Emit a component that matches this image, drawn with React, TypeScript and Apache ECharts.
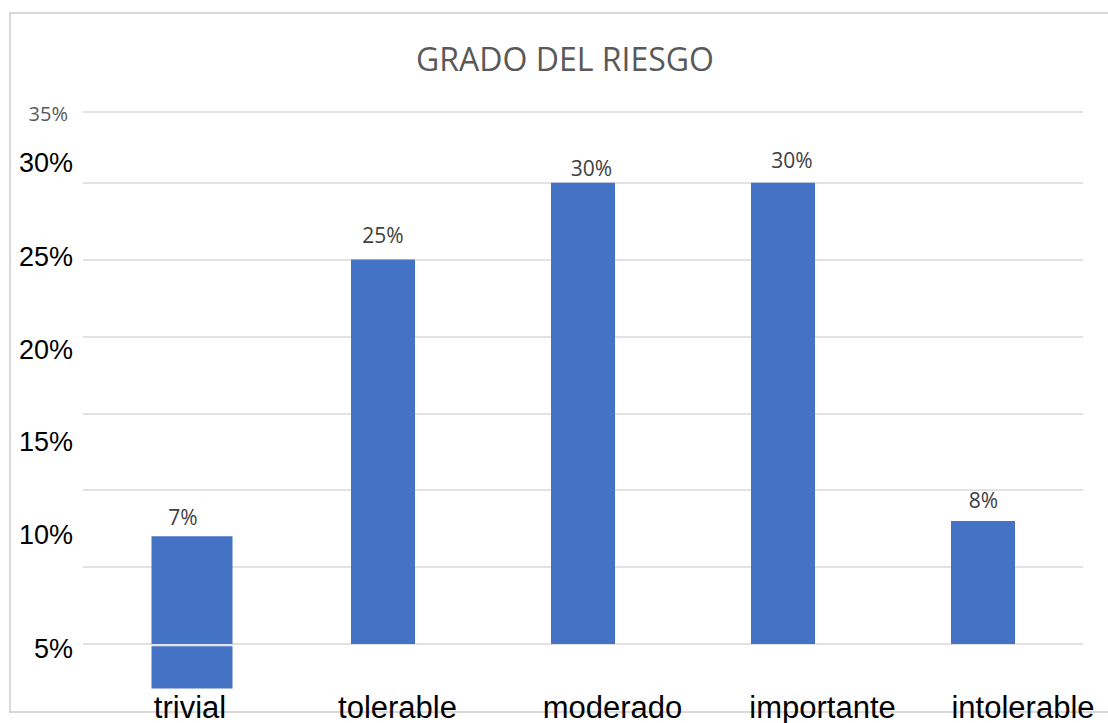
import React, { useEffect, useRef } from 'react';
import * as echarts from 'echarts';

// Share of evaluated risks per risk grade
const categories = ['trivial', 'tolerable', 'moderado', 'importante', 'intolerable'];
const shares = [7, 25, 30, 30, 8];
// the "trivial" column continues below the base line down to this value
const trivialBelowAxis = -2.9;
const yTickLabels = ['35%', '30%', '25%', '20%', '15%', '10%', '5%'];

const BLUE = '#4472C4';
const GRID_GRAY = '#d9d9d9';
const AXIS_TOP = 34.6;

// hand-placed axis texts
const yLabelY = [113, 163, 257, 350, 442, 535, 649];
const xLabelX = [190, 397.5, 612.5, 822.5, 1023];
// small nudges of the value labels [dx, dy]
const labelNudge = [
  [-9, -4],
  [0, -9],
  [8.5, 1],
  [9, -7],
  [0.5, -5],
];

const valueLabel = {
  show: true,
  position: 'top',
  distance: 5,
  formatter: '{c}%',
  fontFamily: 'Open Sans',
  fontSize: 21,
  color: '#404040',
};

export default function App() {
  const ref = useRef<HTMLDivElement>(null);

  useEffect(() => {
    if (!ref.current) return;
    const chart = echarts.init(ref.current, undefined, { renderer: 'svg' });

    const blank = categories.map(() => '-');

    const mainData = shares.map((v, i) =>
      i === 0 ? '-' : { value: v, label: { offset: labelNudge[i] } }
    );
    const trivialUp = blank.slice();
    trivialUp[0] = { value: shares[0], label: { offset: labelNudge[0] } } as any;
    const gapValue = -0.15;
    const trivialGap = blank.slice();
    trivialGap[0] = gapValue as any;
    const trivialDown = blank.slice();
    trivialDown[0] = (trivialBelowAxis - gapValue) as any;

    const yLabelEls = yTickLabels.map((t, i) =>
      i === 0
        ? {
            type: 'text',
            x: 68,
            y: yLabelY[i],
            style: {
              text: t,
              fill: '#595959',
              font: '20px "Open Sans"',
              align: 'right',
              verticalAlign: 'middle',
              textAlign: 'right',
              textVerticalAlign: 'middle',
            },
          }
        : {
            type: 'text',
            x: 73,
            y: yLabelY[i],
            style: {
              text: t,
              fill: '#000000',
              font: '27px "Liberation Sans", Arial',
              align: 'right',
              verticalAlign: 'middle',
              textAlign: 'right',
              textVerticalAlign: 'middle',
            },
          }
    );

    const xLabelEls = categories.map((c, i) => ({
      type: 'text',
      x: xLabelX[i],
      y: 707,
      z: 10,
      style: {
        text: c,
        fill: '#000000',
        font: '31px "Liberation Sans", Arial',
        align: 'center',
        verticalAlign: 'middle',
        textAlign: 'center',
        textVerticalAlign: 'middle',
      },
    }));

    const yBase = {
      type: 'value',
      min: 0,
      max: AXIS_TOP,
      interval: 5,
      axisLabel: { show: false },
      axisLine: { show: false },
      axisTick: { show: false },
    };
    const xBase = {
      type: 'category',
      data: categories,
      axisLabel: { show: false },
      axisLine: { show: false },
      axisTick: { show: false },
    };

    chart.setOption({
      animation: false,
      backgroundColor: '#ffffff',
      title: {
        text: 'GRADO DEL RIESGO',
        left: 560,
        top: 37,
        textAlign: 'center',
        textStyle: {
          fontFamily: 'Open Sans',
          fontSize: 32,
          fontWeight: 'normal',
          color: '#595959',
        },
      },
      grid: [
        { left: 83, right: 25, top: 112, bottom: 79 },
        { left: 92, right: 16, top: 112, bottom: 79 },
      ],
      xAxis: [
        { ...xBase, gridIndex: 0 },
        { ...xBase, gridIndex: 1 },
      ],
      yAxis: [
        {
          ...yBase,
          gridIndex: 0,
          splitLine: { show: true, lineStyle: { color: GRID_GRAY, width: 1.5 } },
        },
        { ...yBase, gridIndex: 1, splitLine: { show: false } },
      ],
      series: [
        {
          name: 'grado',
          type: 'bar',
          xAxisIndex: 0,
          yAxisIndex: 0,
          barWidth: 64,
          itemStyle: { color: BLUE },
          label: valueLabel,
          data: mainData,
        },
        {
          name: 'trivial',
          type: 'bar',
          xAxisIndex: 1,
          yAxisIndex: 1,
          stack: 'trivial',
          barWidth: 81,
          clip: false,
          itemStyle: { color: BLUE },
          label: valueLabel,
          data: trivialUp,
        },
        {
          name: 'trivial-gap',
          type: 'bar',
          xAxisIndex: 1,
          yAxisIndex: 1,
          stack: 'trivial',
          barWidth: 81,
          clip: false,
          itemStyle: { color: '#e3e3e3' },
          data: trivialGap,
        },
        {
          name: 'trivial-low',
          type: 'bar',
          xAxisIndex: 1,
          yAxisIndex: 1,
          stack: 'trivial',
          barWidth: 78,
          clip: false,
          itemStyle: { color: BLUE },
          data: trivialDown,
        },
      ],
      graphic: [
        {
          type: 'rect',
          z: -10,
          shape: { x: 10, y: 13, width: 1110, height: 699 },
          style: { fill: 'none', stroke: GRID_GRAY, lineWidth: 2 },
        },
        ...yLabelEls,
        ...xLabelEls,
      ],
    });

    return () => chart.dispose();
  }, []);

  return (
    <div
      ref={ref}
      style={{ position: 'fixed', left: 0, top: 0, width: 1108, height: 723 }}
    />
  );
}
